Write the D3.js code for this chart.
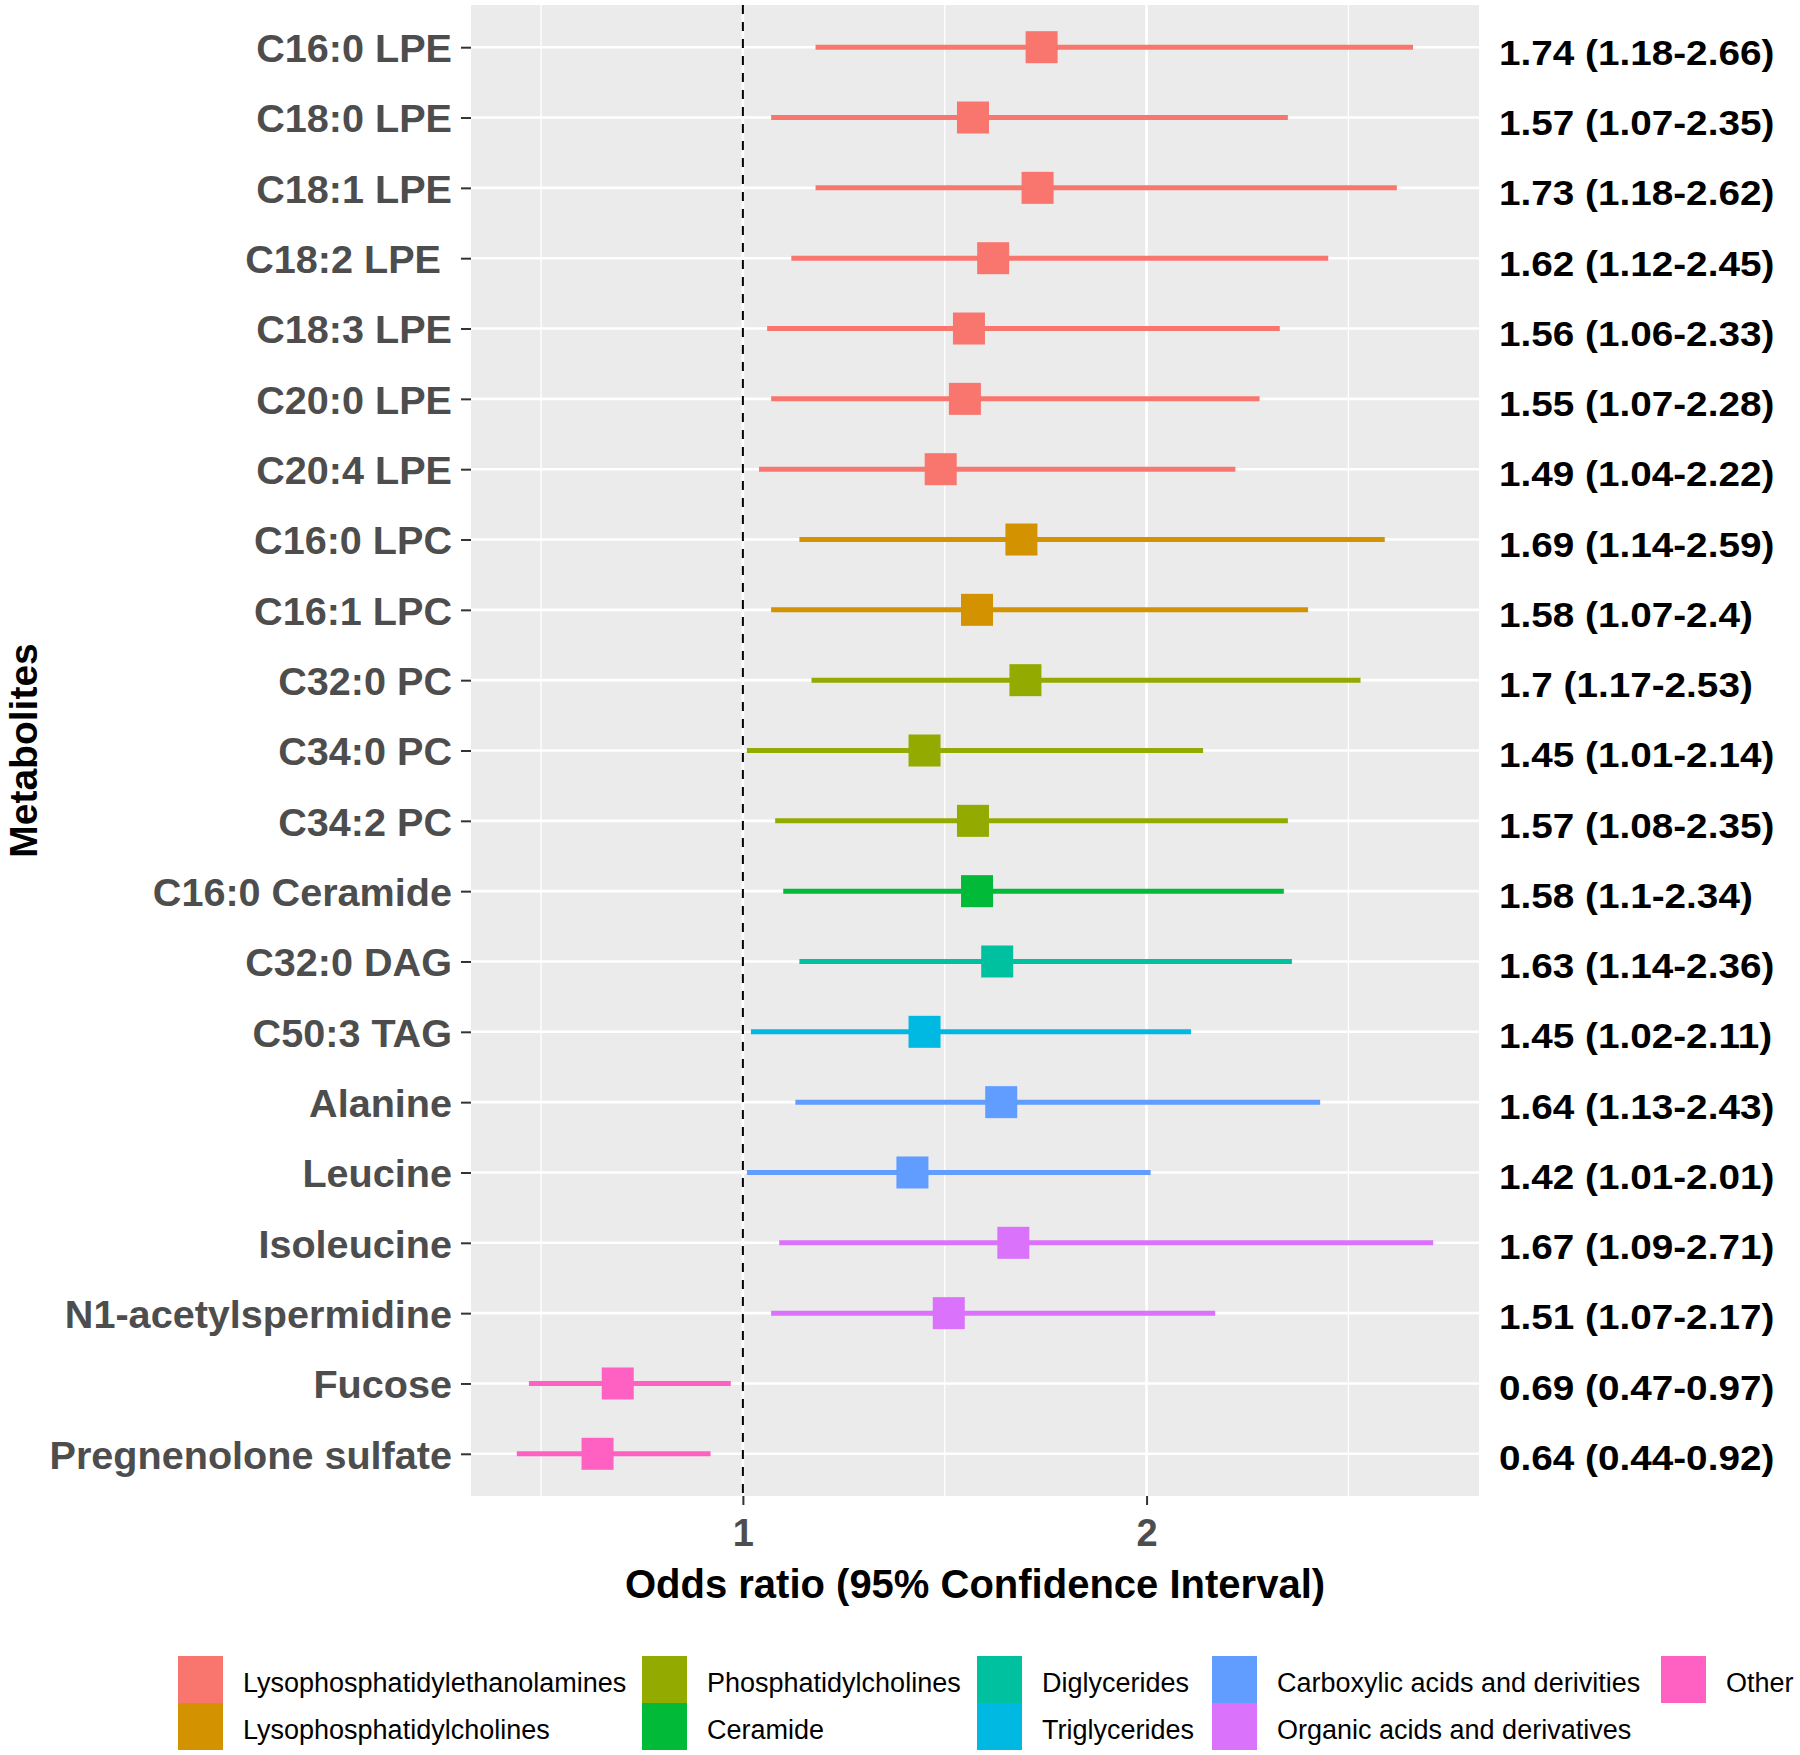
<!DOCTYPE html>
<html>
<head>
<meta charset="utf-8">
<script src="https://cdn.jsdelivr.net/npm/d3@7"></script>
<style>
  html, body { margin: 0; padding: 0; background: #ffffff; }
  svg { display: block; }
  text { font-family: "Liberation Sans", Arial, sans-serif; }
</style>
</head>
<body>
<svg id="chart" width="1800" height="1755"></svg>
<script>
// ---------------- DATA ----------------
const metabolites = [
  "C16:0 LPE", "C18:0 LPE", "C18:1 LPE", "C18:2 LPE ", "C18:3 LPE", "C20:0 LPE", "C20:4 LPE",
  "C16:0 LPC", "C16:1 LPC", "C32:0 PC", "C34:0 PC", "C34:2 PC", "C16:0 Ceramide",
  "C32:0 DAG", "C50:3 TAG", "Alanine", "Leucine", "Isoleucine", "N1-acetylspermidine",
  "Fucose", "Pregnenolone sulfate"
];
const oddsRatio = [1.74, 1.57, 1.73, 1.62, 1.56, 1.55, 1.49, 1.69, 1.58, 1.7, 1.45, 1.57, 1.58, 1.63, 1.45, 1.64, 1.42, 1.67, 1.51, 0.69, 0.64];
const ciLower   = [1.18, 1.07, 1.18, 1.12, 1.06, 1.07, 1.04, 1.14, 1.07, 1.17, 1.01, 1.08, 1.1, 1.14, 1.02, 1.13, 1.01, 1.09, 1.07, 0.47, 0.44];
const ciUpper   = [2.66, 2.35, 2.62, 2.45, 2.33, 2.28, 2.22, 2.59, 2.4, 2.53, 2.14, 2.35, 2.34, 2.36, 2.11, 2.43, 2.01, 2.71, 2.17, 0.97, 0.92];
const classIndex = [0, 0, 0, 0, 0, 0, 0, 1, 1, 2, 2, 2, 3, 4, 5, 6, 6, 7, 7, 8, 8];
const classes = [
  "Lysophosphatidylethanolamines", "Lysophosphatidylcholines", "Phosphatidylcholines",
  "Ceramide", "Diglycerides", "Triglycerides", "Carboxylic acids and derivities",
  "Organic acids and derivatives", "Other"
];
const classColors = ["#F8766D", "#D39200", "#93AA00", "#00BA38", "#00C19F", "#00B9E3", "#619CFF", "#DB72FB", "#FF61C3"];
const xTicks = [1, 2];
const xMinor = [0.5, 1.5, 2.5];
const xTitle = "Odds ratio (95% Confidence Interval)";
const yTitle = "Metabolites";

// ---------------- LAYOUT ----------------
const svg = d3.select("#chart");
const panel = { left: 471, right: 1479, top: 5, bottom: 1496 };

const dataMin = d3.min(ciLower), dataMax = d3.max(ciUpper);
const pad = (dataMax - dataMin) * 0.05;
const x = d3.scaleLinear().domain([dataMin - pad, dataMax + pad]).range([panel.left, panel.right]);
const y = d3.scalePoint().domain(d3.range(metabolites.length)).range([panel.top, panel.bottom]).padding(0.6);
// right-hand labels are placed on their own slightly shifted band
const yLab = d3.scalePoint().domain(d3.range(metabolites.length)).range([52, 1457]);
const color = i => classColors[i];

// panel background
svg.append("rect")
  .attr("x", panel.left).attr("y", panel.top)
  .attr("width", panel.right - panel.left).attr("height", panel.bottom - panel.top)
  .attr("fill", "#EBEBEB");

// minor vertical gridlines
svg.append("g").selectAll("line").data(xMinor).join("line")
  .attr("x1", d => x(d)).attr("x2", d => x(d))
  .attr("y1", panel.top).attr("y2", panel.bottom)
  .attr("stroke", "#ffffff").attr("stroke-width", 1.3);

// major vertical gridlines
svg.append("g").selectAll("line").data(xTicks).join("line")
  .attr("x1", d => x(d)).attr("x2", d => x(d))
  .attr("y1", panel.top).attr("y2", panel.bottom)
  .attr("stroke", "#ffffff").attr("stroke-width", 2.6);

// major horizontal gridlines
svg.append("g").selectAll("line").data(d3.range(metabolites.length)).join("line")
  .attr("x1", panel.left).attr("x2", panel.right)
  .attr("y1", d => y(d)).attr("y2", d => y(d))
  .attr("stroke", "#ffffff").attr("stroke-width", 2.6);

// reference dashed line at OR = 1
svg.append("line")
  .attr("x1", x(1)).attr("x2", x(1))
  .attr("y1", panel.top).attr("y2", panel.bottom)
  .attr("stroke", "#000000").attr("stroke-width", 2)
  .attr("stroke-dasharray", "9,8");

// confidence interval lines
const rows = metabolites.map((m, i) => ({ i, m, or: oddsRatio[i], lo: ciLower[i], hi: ciUpper[i], c: classIndex[i] }));
svg.append("g").selectAll("line").data(rows).join("line")
  .attr("x1", d => x(d.lo)).attr("x2", d => x(d.hi))
  .attr("y1", d => y(d.i)).attr("y2", d => y(d.i))
  .attr("stroke", d => color(d.c)).attr("stroke-width", 5);

// point squares
const sq = 32;
svg.append("g").selectAll("rect").data(rows).join("rect")
  .attr("x", d => x(d.or) - sq / 2).attr("y", d => y(d.i) - sq / 2)
  .attr("width", sq).attr("height", sq)
  .attr("fill", d => color(d.c));

// y axis
const yAxis = d3.axisLeft(y).tickFormat(i => metabolites[i]).tickSize(10).tickPadding(9);
const gy = svg.append("g").attr("transform", `translate(${panel.left},0)`).call(yAxis);
gy.select(".domain").remove();
gy.selectAll(".tick line").attr("stroke", "#333333").attr("stroke-width", 2);
gy.selectAll(".tick text")
  .attr("fill", "#4D4D4D").attr("font-size", 39.6).attr("font-weight", "bold")
  .attr("font-family", "Liberation Sans, Arial, sans-serif")
  .style("white-space", "pre").attr("xml:space", "preserve")
  .attr("dy", "0.36em");

// x axis
const xAxis = d3.axisBottom(x).tickValues(xTicks).tickFormat(d3.format("d")).tickSize(9).tickPadding(14);
const gx = svg.append("g").attr("transform", `translate(0,${panel.bottom})`).call(xAxis);
gx.select(".domain").remove();
gx.selectAll(".tick line").attr("stroke", "#333333").attr("stroke-width", 2);
gx.selectAll(".tick text")
  .attr("fill", "#4D4D4D").attr("font-size", 38).attr("font-weight", "bold")
  .attr("font-family", "Liberation Sans, Arial, sans-serif");

// axis titles
svg.append("text")
  .attr("x", (panel.left + panel.right) / 2).attr("y", 1598)
  .attr("text-anchor", "middle").attr("font-size", 40).attr("font-weight", "bold")
  .attr("fill", "#000000").text(xTitle);
svg.append("text")
  .attr("transform", `translate(37,${(panel.top + panel.bottom) / 2}) rotate(-90)`)
  .attr("text-anchor", "middle").attr("font-size", 39).attr("font-weight", "bold")
  .attr("fill", "#000000").text(yTitle);

// right-hand OR (CI) labels (slightly wide glyphs in the original)
svg.append("g").selectAll("text").data(rows).join("text")
  .attr("transform", d => `translate(1499,${yLab(d.i)}) scale(1.09,1)`)
  .attr("dy", "0.36em")
  .attr("font-size", 35.5).attr("font-weight", "bold").attr("fill", "#000000")
  .text(d => `${d.or} (${d.lo}-${d.hi})`);

// legend (column-major, two rows)
const legendCols = [178, 642, 977, 1212, 1661];
const legendTop = 1656, keyW = 45, keyH = 47, labelGap = 20;
const legendItems = classes.map((name, k) => ({ name, k, col: Math.floor(k / 2), row: k % 2 }));
const lg = svg.append("g").selectAll("g").data(legendItems).join("g")
  .attr("transform", d => `translate(${legendCols[d.col]},${legendTop + d.row * keyH})`);
lg.append("rect")
  .attr("width", keyW).attr("height", keyH)
  .attr("fill", d => color(d.k));
lg.append("text")
  .attr("x", keyW + labelGap).attr("y", keyH / 2 + 3).attr("dy", "0.36em")
  .attr("font-size", 27).attr("fill", "#000000")
  .text(d => d.name);
</script>
</body>
</html>
